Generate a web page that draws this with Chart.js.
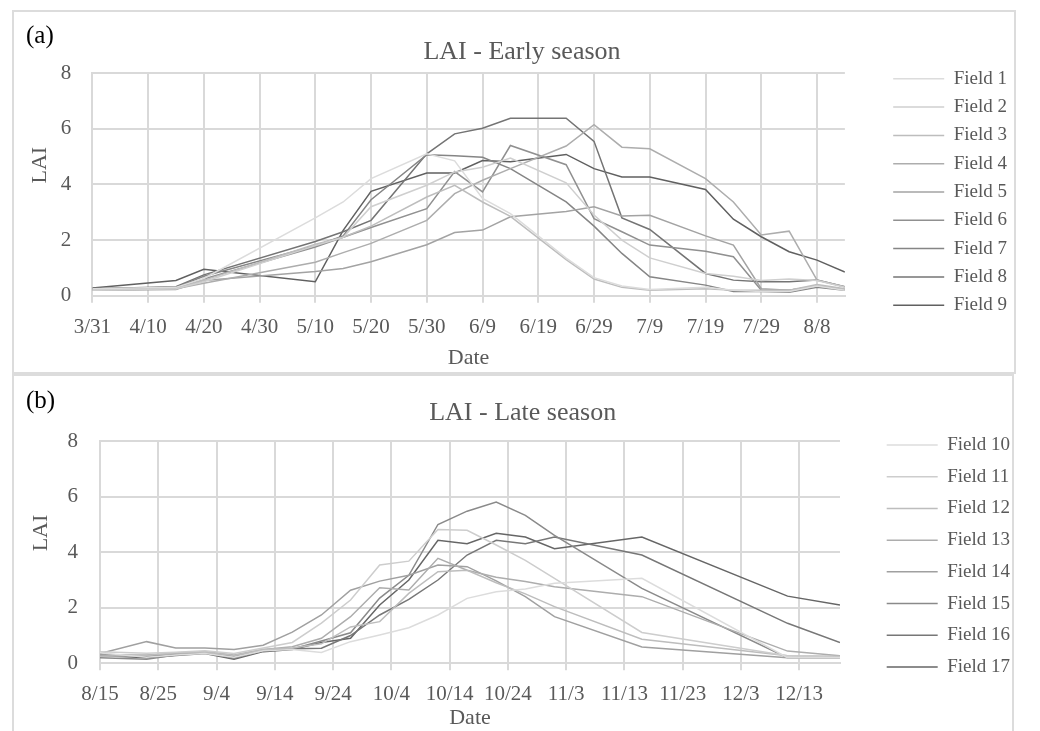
<!DOCTYPE html>
<html>
<head>
<meta charset="utf-8">
<script src="https://cdn.jsdelivr.net/npm/chart.js@4.4.0/dist/chart.umd.min.js"></script>
<style>
  body { margin: 0; width: 1040px; height: 731px; overflow: hidden; background: #fff; font-family: 'Liberation Serif', serif; }
  .panel { position: absolute; box-sizing: border-box; border: 2px solid #dcdcdc; background: #fff; }
  .panel canvas { position: absolute; left: 0; top: 0; }
  .tag { position: absolute; left: 26px; font-size: 25px; color: #000; line-height: 1; }
</style>
</head>
<body>
<div class="panel" style="left:12px; top:10px; width:1004px; height:364px;">
  <canvas id="earlyChart" width="1000" height="360"></canvas>
</div>
<div class="panel" style="left:12px; top:374px; width:1002px; height:380px;">
  <canvas id="lateChart" width="998" height="360"></canvas>
</div>
<div class="tag" style="top:22px;">(a)</div>
<div class="tag" style="top:387px;">(b)</div>

<script>
// Sampling dates and LAI values
const earlyDates = ['3/31', '4/15', '4/20', '5/10', '5/15', '5/20', '5/30', '6/4', '6/9', '6/14',
                    '6/24', '6/29', '7/4', '7/9', '7/19', '7/24', '7/29', '8/3', '8/8', '8/13'];
const field1 = [0.25, 0.30, 0.62, 2.80, 3.37, 4.21, 5.10, 4.85, 3.50, 2.95, 1.35, 0.65, 0.35, 0.22, 0.30, 0.20, 0.15, 0.15, 0.35, 0.20];
const field2 = [0.20, 0.25, 0.50, 1.80, 2.10, 3.20, 3.97, 4.45, 4.62, 4.95, 4.06, 2.90, 2.00, 1.36, 0.80, 0.70, 0.55, 0.60, 0.55, 0.30];
const field3 = [0.20, 0.25, 0.55, 1.85, 2.10, 2.50, 3.55, 3.97, 3.37, 2.85, 1.30, 0.60, 0.30, 0.20, 0.25, 0.20, 0.20, 0.20, 0.40, 0.25];
const field4 = [0.20, 0.25, 0.45, 1.20, 1.55, 1.88, 2.71, 3.67, 4.15, 4.57, 5.38, 6.15, 5.34, 5.28, 4.21, 3.37, 2.18, 2.32, 0.56, 0.32];
const field5 = [0.20, 0.22, 0.55, 0.87, 0.98, 1.22, 1.83, 2.27, 2.36, 2.84, 3.03, 3.20, 2.87, 2.89, 2.15, 1.82, 0.25, 0.20, 0.35, 0.22];
const field6 = [0.22, 0.28, 0.60, 1.75, 2.10, 2.45, 3.13, 4.46, 3.73, 5.40, 4.71, 2.77, 2.30, 1.82, 1.60, 1.40, 0.20, 0.20, 0.35, 0.22];
const field7 = [0.25, 0.30, 0.70, 1.80, 2.15, 3.45, 5.07, 5.03, 4.98, 4.57, 3.37, 2.50, 1.52, 0.68, 0.38, 0.15, 0.15, 0.12, 0.30, 0.20];
const field8 = [0.25, 0.32, 0.75, 1.95, 2.30, 2.71, 5.10, 5.82, 6.02, 6.38, 6.38, 5.55, 2.80, 2.38, 0.80, 0.56, 0.50, 0.50, 0.56, 0.32];
const field9 = [0.28, 0.55, 0.95, 0.50, 2.35, 3.75, 4.41, 4.41, 4.86, 4.82, 5.08, 4.57, 4.27, 4.27, 3.82, 2.75, 2.12, 1.58, 1.28, 0.85];

const lateDates = ['8/15', '8/23', '8/28', '9/2', '9/7', '9/12', '9/17', '9/22', '9/27', '10/2',
                   '10/7', '10/12', '10/17', '10/22', '10/27', '11/1', '11/16', '12/11', '12/20'];
const field10 = [0.38, 0.22, 0.30, 0.35, 0.22, 0.45, 0.50, 0.39, 0.78, 1.02, 1.28, 1.74, 2.34, 2.58, 2.68, 2.88, 3.06, 0.20, 0.20];
const field11 = [0.42, 0.36, 0.40, 0.45, 0.35, 0.55, 0.75, 1.45, 2.28, 3.54, 3.68, 4.82, 4.79, 4.26, 3.71, 3.06, 1.11, 0.27, 0.22];
const field12 = [0.25, 0.28, 0.38, 0.40, 0.28, 0.50, 0.55, 0.70, 1.31, 1.50, 2.52, 3.30, 3.35, 2.90, 2.50, 2.04, 0.87, 0.27, 0.25];
const field13 = [0.30, 0.30, 0.35, 0.42, 0.30, 0.50, 0.60, 0.90, 1.68, 2.72, 2.64, 3.78, 3.35, 3.10, 2.95, 2.76, 2.40, 0.44, 0.27];
const field14 = [0.35, 0.78, 0.55, 0.55, 0.50, 0.65, 1.12, 1.74, 2.63, 2.96, 3.17, 3.54, 3.48, 2.97, 2.40, 1.68, 0.59, 0.20, 0.20];
const field15 = [0.20, 0.15, 0.30, 0.38, 0.18, 0.45, 0.52, 0.80, 1.10, 2.35, 3.17, 5.00, 5.48, 5.81, 5.33, 4.61, 2.70, 0.20, 0.20];
const field16 = [0.32, 0.25, 0.32, 0.40, 0.25, 0.48, 0.52, 0.54, 1.00, 1.74, 2.30, 3.00, 3.90, 4.43, 4.31, 4.55, 3.90, 1.44, 0.75];
const field17 = [0.28, 0.20, 0.28, 0.35, 0.15, 0.42, 0.50, 0.75, 0.90, 2.10, 3.00, 4.43, 4.31, 4.68, 4.55, 4.13, 4.55, 2.42, 2.10];

const earlyLabels = ['Field 1', 'Field 2', 'Field 3', 'Field 4', 'Field 5', 'Field 6', 'Field 7', 'Field 8', 'Field 9'];
const lateLabels = ['Field 10', 'Field 11', 'Field 12', 'Field 13', 'Field 14', 'Field 15', 'Field 16', 'Field 17'];
const earlyColors = ['#dcdcdc', '#cfcfcf', '#bdbdbd', '#adadad', '#a3a3a3', '#909090', '#858585', '#747474', '#606060'];
const lateColors = ['#dcdcdc', '#cdcdcd', '#bdbdbd', '#adadad', '#a0a0a0', '#8a8a8a', '#777777', '#666666'];

const textGray = '#595959';
const gridGray = '#d9d9d9';
Chart.defaults.font.family = "'Liberation Serif', serif";
Chart.defaults.color = textGray;

// Date helpers: x axis counts days from the first sampling date
const monthDays = [31, 28, 31, 30, 31, 30, 31, 31, 30, 31, 30, 31];
function dayOfYear(md) {
    const [m, d] = md.split('/').map(Number);
    let n = d;
    for (let i = 0; i < m - 1; i++) n += monthDays[i];
    return n;
}
function monthDay(n) {
    let m = 0;
    while (n > monthDays[m]) { n -= monthDays[m]; m++; }
    return (m + 1) + '/' + n;
}

function buildChart(canvasId, opts) {
    const start = dayOfYear(opts.dates[0]);
    const xs = opts.dates.map(d => dayOfYear(d) - start);

    const datasets = opts.series.map((vals, i) => ({
        label: opts.labels[i],
        data: vals.map((v, j) => ({ x: xs[j], y: v })),
        borderColor: opts.colors[i],
        backgroundColor: opts.colors[i],
        borderWidth: 1.5,
        pointBorderWidth: 1.5,
        pointRadius: 0,
        pointHoverRadius: 0,
        pointStyle: 'line',
        tension: 0,
        fill: false
    }));

    return new Chart(document.getElementById(canvasId), {
        type: 'line',
        data: { datasets: datasets },
        options: {
            responsive: false,
            animation: false,
            layout: { padding: { left: opts.padLeft, right: opts.padRight, top: 0, bottom: 0 } },
            plugins: {
                title: {
                    display: true,
                    text: opts.title,
                    color: textGray,
                    font: { size: 26, weight: 'normal' },
                    padding: { top: opts.titleTop, bottom: opts.titleBottom }
                },
                legend: {
                    position: 'right',
                    labels: {
                        usePointStyle: true,
                        pointStyleWidth: 51,
                        padding: opts.legendGap,
                        color: textGray,
                        font: { size: 19 }
                    }
                },
                tooltip: { enabled: false }
            },
            scales: {
                x: {
                    type: 'linear',
                    min: 0,
                    max: opts.xMax,
                    grid: { color: gridGray, lineWidth: 2, tickLength: 7 },
                    border: { color: gridGray, width: 2 },
                    ticks: {
                        stepSize: 10,
                        includeBounds: false,
                        padding: 12,
                        font: { size: 21 },
                        color: textGray,
                        maxRotation: 0,
                        autoSkip: false,
                        callback: value => monthDay(start + value)
                    },
                    title: {
                        display: true,
                        text: 'Date',
                        color: textGray,
                        font: { size: 22 },
                        padding: { top: 0, bottom: opts.dateBottom }
                    },
                    afterFit: scale => { scale.height = opts.xHeight; }
                },
                y: {
                    min: 0,
                    max: 8,
                    grid: { color: gridGray, lineWidth: 2, drawTicks: false },
                    border: { color: gridGray, width: 2 },
                    ticks: { stepSize: 2, padding: opts.yTickPad, font: { size: 21 }, color: textGray },
                    title: {
                        display: true,
                        // leading spaces lift the rotated label like the original
                        text: '       LAI',
                        color: textGray,
                        font: { size: 22 },
                        padding: { top: opts.laiTop, bottom: 0 }
                    },
                    afterFit: scale => { scale.width = opts.yWidth; }
                },
                // empty axis only used to leave the gap before the legend
                gap: {
                    position: 'right',
                    display: true,
                    grid: { display: false },
                    border: { display: false },
                    ticks: { display: false },
                    afterFit: scale => { scale.width = opts.gapWidth; }
                }
            }
        }
    });
}

buildChart('earlyChart', {
    title: 'LAI - Early season',
    dates: earlyDates,
    series: [field1, field2, field3, field4, field5, field6, field7, field8, field9],
    labels: earlyLabels,
    colors: earlyColors,
    xMax: 135,
    padLeft: 13, padRight: -3,
    titleTop: 25, titleBottom: 5,
    legendGap: 9.3,
    xHeight: 76.3, dateBottom: 1,
    yWidth: 65.3, yTickPad: 21, laiTop: 0,
    gapWidth: 39
});

buildChart('lateChart', {
    title: 'LAI - Late season',
    dates: lateDates,
    series: [field10, field11, field12, field13, field14, field15, field16, field17],
    labels: lateLabels,
    colors: lateColors,
    xMax: 127,
    padLeft: 11.4, padRight: -8,
    titleTop: 22, titleBottom: 12,
    legendGap: 12.7,
    xHeight: 72.7, dateBottom: 4.5,
    yWidth: 74.6, yTickPad: 22, laiTop: 3,
    gapWidth: 34
});
</script>
</body>
</html>
